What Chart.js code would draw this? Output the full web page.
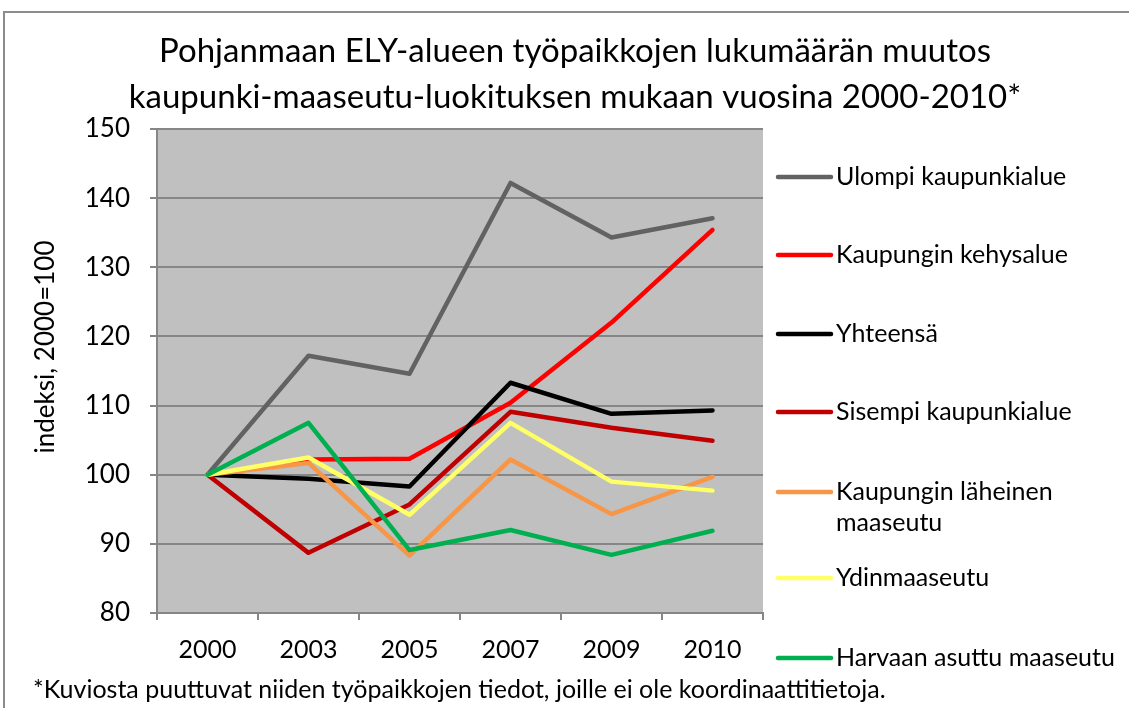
<!DOCTYPE html>
<html>
<head>
<meta charset="utf-8">
<script src="https://cdn.jsdelivr.net/npm/chart.js@4"></script>
<style>
  html, body { margin: 0; padding: 0; background: #fff; }
  #wrap { position: relative; width: 1129px; height: 708px; }
</style>
</head>
<body>
<div id="wrap"><canvas id="kuvio" width="1129" height="708"></canvas></div>
<script>
var vuodet = ['2000', '2003', '2005', '2007', '2009', '2010'];

var ulompi = [100, 117.2, 114.6, 142.2, 134.3, 137.1];
var kehysalue = [100, 102.2, 102.3, 110.4, 122.0, 135.4];
var yhteensa = [100, 99.4, 98.3, 113.3, 108.8, 109.3];
var sisempi = [100, 88.7, 95.7, 109.1, 106.8, 104.9];
var laheinen = [100, 101.7, 88.3, 102.2, 94.3, 99.7];
var ydinmaaseutu = [100, 102.5, 94.2, 107.5, 99.0, 97.7];
var harvaan = [100, 107.5, 89.1, 92.0, 88.4, 91.9];

var yTicks = [80, 90, 100, 110, 120, 130, 140, 150];

var fontti = "Lato, 'Open Sans', sans-serif";

var sarjat = [
  { label: 'Ulompi kaupunkialue', data: ulompi, color: '#626262' },
  { label: 'Kaupungin kehysalue', data: kehysalue, color: '#ff0000' },
  { label: 'Yhteensä', data: yhteensa, color: '#000000' },
  { label: 'Sisempi kaupunkialue', data: sisempi, color: '#c00000' },
  { label: 'Kaupungin läheinen\nmaaseutu', data: laheinen, color: '#f79646' },
  { label: 'Ydinmaaseutu', data: ydinmaaseutu, color: '#ffff66' },
  { label: 'Harvaan asuttu maaseutu', data: harvaan, color: '#00b050' }
];

// legend rows (y of the line) like in the excel picture
var legendY = [177, 255, 334, 412, 492, 578, 658];

var taustaPlugin = {
  id: 'tausta',
  beforeDraw: function(chart) {
    var c = chart.ctx, a = chart.chartArea;
    c.save();
    c.fillStyle = '#fff';
    c.fillRect(0, 0, chart.width, chart.height);
    c.strokeStyle = '#8c8c8c';
    c.lineWidth = 2;
    c.strokeRect(4, 12, chart.width + 10, chart.height + 10);
    c.fillStyle = '#c0c0c0';
    c.fillRect(a.left, a.top, a.right - a.left, a.bottom - a.top);
    c.restore();
  },
  afterDraw: function(chart) {
    var c = chart.ctx;
    c.save();
    c.fillStyle = '#000';
    c.textAlign = 'center';
    c.textBaseline = 'middle';
    c.font = '33px ' + fontti;
    c.fillText('Pohjanmaan ELY-alueen työpaikkojen lukumäärän muutos', 575, 51);
    c.fillText('kaupunki-maaseutu-luokituksen mukaan vuosina 2000-2010*', 575, 97);

    // y axis title
    c.save();
    c.translate(46, 347);
    c.rotate(-Math.PI / 2);
    c.font = '26px ' + fontti;
    c.fillText('indeksi, 2000=100', 0, 0);
    c.restore();

    c.font = '25px ' + fontti;
    c.textAlign = 'left';
    chart.data.datasets.forEach(function(ds, i) {
      var y = legendY[i];
      c.strokeStyle = ds.borderColor;
      c.lineWidth = 4.5;
      c.lineCap = 'round';
      c.beginPath();
      c.moveTo(778, y);
      c.lineTo(831, y);
      c.stroke();
      var rivit = ds.label.split('\n');
      for (var r = 0; r < rivit.length; r++) {
        c.fillText(rivit[r], 836, y + r * 31);
      }
    });

    c.fillText('*Kuviosta puuttuvat niiden työpaikkojen tiedot, joille ei ole koordinaattitietoja.', 33, 690);
    c.restore();
  }
};

var ctx = document.getElementById('kuvio').getContext('2d');
var kuvio = new Chart(ctx, {
  type: 'line',
  data: {
    labels: vuodet,
    datasets: sarjat.map(function(s, i) {
      return {
        label: s.label,
        data: s.data,
        borderColor: s.color,
        backgroundColor: s.color,
        borderWidth: 4.5,
        pointRadius: 0,
        tension: 0,
        borderCapStyle: 'round',
        borderJoinStyle: 'round',
        order: sarjat.length - i
      };
    })
  },
  options: {
    responsive: false,
    animation: false,
    layout: { padding: { top: 129, right: 366, bottom: 50, left: 0 } },
    plugins: {
      legend: { display: false },
      title: { display: false },
      tooltip: { enabled: false }
    },
    scales: {
      x: {
        offset: true,
        afterFit: function(s) { s.height = 45; },
        grid: { offset: true, drawOnChartArea: false, color: '#868686', tickLength: 7, lineWidth: 2 },
        border: { color: '#868686', width: 2 },
        ticks: { color: '#000', font: { family: fontti, size: 25 }, padding: 15 }
      },
      y: {
        min: 80,
        max: 150,
        afterFit: function(s) { s.width = 157; },
        afterBuildTicks: function(s) { s.ticks = yTicks.map(function(v) { return { value: v }; }); },
        grid: { color: '#868686', tickLength: 7, lineWidth: 2 },
        border: { color: '#868686', width: 2 },
        ticks: { color: '#000', font: { family: fontti, size: 26 }, padding: 20 }
      }
    }
  },
  plugins: [taustaPlugin]
});
</script>
</body>
</html>
